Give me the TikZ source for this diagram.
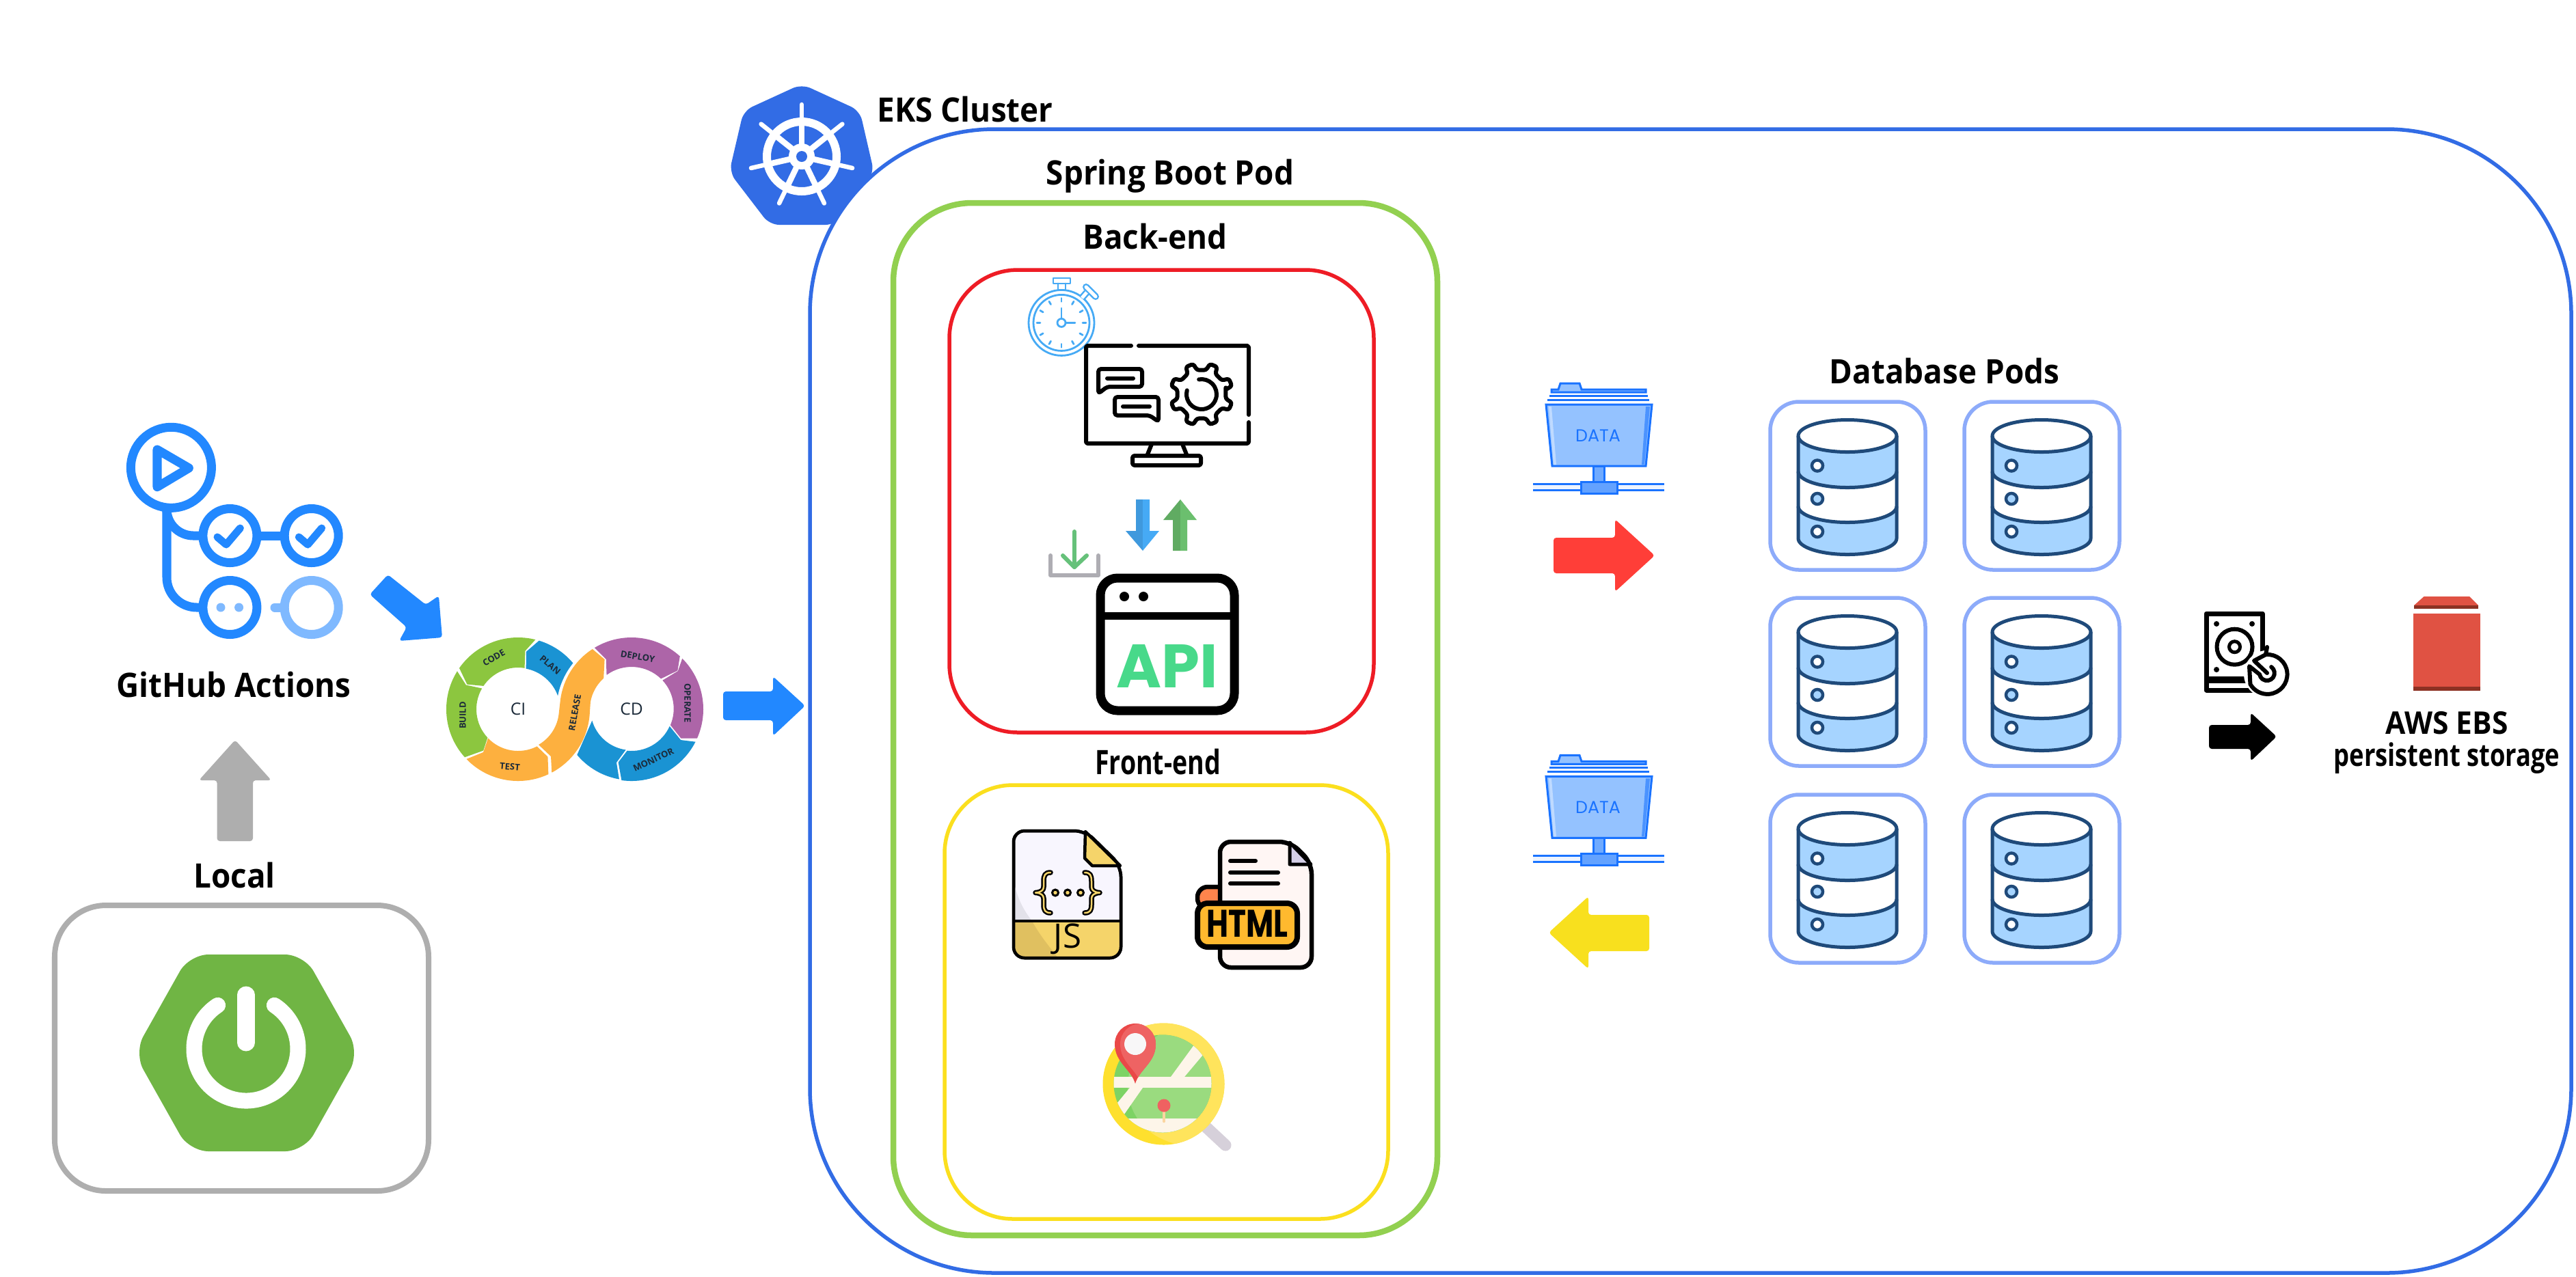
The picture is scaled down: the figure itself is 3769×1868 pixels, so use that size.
\documentclass[tikz,border=0pt]{standalone}
\usepackage{fontspec}
\setmainfont{Open Sans}
\newfontfamily\pop{Poppins}
\usetikzlibrary{calc}
\definecolor{ghblue}{HTML}{2288FF}
\definecolor{ghlight}{HTML}{7FB9FF}
\definecolor{kblue}{HTML}{326CE5}
\definecolor{podgreen}{HTML}{92D050}
\definecolor{bered}{HTML}{EE1C25}
\definecolor{feyellow}{HTML}{FBDF1E}
\definecolor{arrowyellow}{HTML}{F8E01E}
\definecolor{graybox}{HTML}{AEAEAE}
\definecolor{springg}{HTML}{70B544}
\definecolor{dbbox}{HTML}{8DABFA}
\definecolor{dbline}{HTML}{1F4A7A}
\definecolor{dbfill}{HTML}{A6D4FF}
\definecolor{ciG}{HTML}{8CC63F}
\definecolor{ciB}{HTML}{1A93D3}
\definecolor{ciO}{HTML}{FDB03F}
\definecolor{ciP}{HTML}{AD65A8}
\definecolor{citext}{HTML}{1C2B3A}
\definecolor{watch}{HTML}{46AAF5}
\definecolor{fold}{HTML}{1A73FF}
\definecolor{foldfill}{HTML}{94C2FF}
\tikzset{
  lab/.style={inner sep=0pt,font=\fontsize{14}{16}\selectfont\bfseries,text=black,xscale=.93},
  sublab/.style={inner sep=0pt,font=\fontsize{13}{15}\selectfont\bfseries,text=black,xscale=.93},
  cilab/.style={inner sep=0pt,font=\fontsize{3.7}{4.5}\selectfont\bfseries,text=citext},
  cihead/.style={inner sep=0pt,font=\fontsize{7}{8}\selectfont,text=citext},
  blockarrow/.style={rounded corners=.04cm},
  frame/.style={fill=white,line join=round},
  ghline/.style={draw=ghblue,line width=.13cm},
  ghlite/.style={draw=ghlight,line width=.13cm},
  iconline/.style={draw=black,line width=.06cm,line cap=round,line join=round},
  watchline/.style={draw=watch,line width=.028cm,line cap=round},
}
\newcommand\Pc[3]{($(#1)+(#2:#3)$)}
\newcommand\pinpath{(1661,-1586) .. controls (1655,-1565) and (1631,-1555) .. (1631,-1528) arc[start angle=180,end angle=0,radius=30] .. controls (1691,-1555) and (1667,-1565) .. (1661,-1586) -- cycle}
\newcommand\folder[1]{%
 \begin{scope}[yshift=#1]
  \fill[foldfill,draw=fold,line width=.03cm] (2270,-574) -- (2270,-570) -- (2280,-570) -- (2283,-561) -- (2311,-561) -- (2314,-570) -- (2408,-570) -- (2408,-574) -- cycle;
  \draw[fold,line width=.03cm] (2267,-579) -- (2411,-579);
  \draw[fold,line width=.03cm] (2264,-585) -- (2413,-585);
  \fill[foldfill,draw=fold,line width=.03cm] (2262,-592) -- (2417,-592) -- (2408,-682) -- (2271,-682) -- cycle;
  \fill[white!40!foldfill] (2266,-595) -- (2270,-595) -- (2277,-680) -- (2273,-680) -- cycle;
  \fill[fold!60!foldfill] (2414,-595) -- (2408,-595) -- (2402,-680) -- (2406,-680) -- cycle;
  \fill[fold!30!foldfill,draw=fold,line width=.03cm] (2331,-682) rectangle (2347,-705);
  \fill[fold!8!white] (2243,-708) rectangle (2435,-717);
  \draw[fold,line width=.03cm] (2243,-708) -- (2435,-708);
  \draw[fold,line width=.03cm] (2243,-717) -- (2435,-717);
  \fill[fold!40!foldfill,draw=fold,line width=.03cm] (2313,-705) rectangle (2366,-722);
 \end{scope}}
\newcommand\dbpod[2]{%
 \begin{scope}[shift={(#1,#2)}]
  \draw[frame,draw=dbbox,line width=.055cm,rounded corners=.42cm] (2590,-588) rectangle (2817,-834);
  \fill[dbfill] (2631,-638) arc[start angle=180,end angle=360,x radius=72,y radius=23.5] -- (2775,-690) arc[start angle=0,end angle=-180,x radius=72,y radius=23.5] -- cycle;
  \fill[dbfill] (2631,-741) arc[start angle=180,end angle=360,x radius=72,y radius=23.5] -- (2775,-788) arc[start angle=0,end angle=-180,x radius=72,y radius=23.5] -- cycle;
  \draw[dbline,line width=.05cm] (2703,-638) circle[x radius=72,y radius=23.5];
  \draw[dbline,line width=.05cm] (2631,-638) -- (2631,-788) arc[start angle=180,end angle=360,x radius=72,y radius=23.5] -- (2775,-638);
  \draw[dbline,line width=.05cm] (2631,-690) arc[start angle=180,end angle=360,x radius=72,y radius=23.5];
  \draw[dbline,line width=.05cm] (2631,-741) arc[start angle=180,end angle=360,x radius=72,y radius=23.5];
  \draw[dbline,fill=white,line width=.045cm] (2659,-681.5) circle[radius=8];
  \draw[dbline,fill=dbfill,line width=.045cm] (2659,-730) circle[radius=8];
  \draw[dbline,fill=white,line width=.045cm] (2659,-778) circle[radius=8];
 \end{scope}}
\begin{document}
\begin{tikzpicture}[x=.01cm,y=.01cm]
\path[use as bounding box,fill=white] (0,0) rectangle (3769,-1868);

% Kubernetes logo, partly hidden by the cluster frame
\fill[kblue,rounded corners=.14cm] (1173,-123) -- (1258,-162) -- (1279,-253) -- (1222,-329) -- (1126,-329) -- (1067,-252) -- (1088,-162) -- cycle;
\begin{scope}[shift={(1173,-229)}]
 \draw[white,line width=.12cm] (0,0) circle[radius=51];
 \foreach \a in {90,141.4,192.9,244.3,295.7,347.1,38.6}{
  \draw[white,line width=.085cm] (\a:12) -- (\a:50);
  \draw[white,line width=.065cm,line cap=round] (\a:50) -- (\a:76);
 }
 \fill[white] (0,0) circle[radius=19];
 \fill[kblue] (0,0) circle[radius=8];
\end{scope}

% Containers
\draw[frame,draw=kblue,line width=.055cm,rounded corners=2.7cm] (1185,-189) rectangle (3762,-1863);
\draw[frame,draw=podgreen,line width=.085cm,rounded corners=1.15cm] (1307,-297) rectangle (2103,-1808);
\draw[frame,draw=bered,line width=.055cm,rounded corners=1cm] (1389,-395) rectangle (2010,-1072);
\draw[frame,draw=feyellow,line width=.055cm,rounded corners=1cm] (1382,-1149) rectangle (2031,-1784);
\draw[frame,draw=graybox,line width=.08cm,rounded corners=.75cm] (80,-1325) rectangle (627,-1743);

% Labels
\node[lab,anchor=west] (tEKS) at (1283,-160) {EKS Cluster};
\node[lab] (tPod) at (1712,-258) {Spring Boot Pod};
\node[lab] (tBack) at (1690,-346) {Back-end};
\node[lab,xscale=.82] (tFront) at (1694,-1115) {Front-end};
\node[lab] (tDB) at (2845,-543) {Database Pods};
\node[lab] (tLocal) at (343,-1281) {Local};
\node[lab] (tGit) at (342,-1002) {GitHub Actions};
\node[sublab] (tAWS) at (3580,-1058) {AWS EBS};
\node[sublab,xscale=.855] (tPers) at (3580,-1110) {persistent storage};

% Spring logo
\fill[springg,rounded corners=.28cm] (277,-1397) -- (445,-1397) -- (526,-1541) -- (445,-1685) -- (277,-1685) -- (196,-1541) -- cycle;
\draw[white,line width=.23cm,line cap=round] ($(360,-1535)+(123:76)$) arc[start angle=123,end angle=417,radius=76];
\draw[white,line width=.25cm,line cap=round] (360,-1456) -- (360,-1526);

% GitHub Actions logo
\draw[ghlite] (455.7,-889) circle[radius=39.5];
\draw[ghlite,line cap=round] (402,-889) -- (416,-889);
\fill[ghlight] (323,-889) circle[radius=6.5];
\fill[ghlight] (349.6,-889) circle[radius=6.5];
\draw[ghline] (250.4,-684.3) circle[radius=59];
\draw[ghline,line join=round] (230,-658) -- (276.4,-685) -- (230,-712.7) -- cycle;
\draw[ghline] (244,-745) -- (244,-845) arc[start angle=180,end angle=270,radius=44] -- (297,-889);
\draw[ghline] (244,-745) arc[start angle=180,end angle=270,radius=39] -- (297,-784);
\draw[ghline] (375,-784) -- (417,-784);
\foreach \c in {336.4,455.7}{\draw[ghline] (\c,-784) circle[radius=39.5];}
\draw[ghline] (336.4,-889) circle[radius=39.5];
\draw[ghblue,line width=.11cm,line cap=round,line join=round] (318,-786) -- (331,-797) -- (351.4,-773);
\draw[ghblue,line width=.11cm,line cap=round,line join=round] (437.3,-786) -- (450.3,-797) -- (470.7,-773);

% Block arrows
\fill[ghblue,blockarrow] (567.5,-841) -- (541,-870) -- (595,-918) -- (584,-938) -- (647,-933) -- (642,-872) -- (623,-885) -- cycle;
\fill[ghblue,blockarrow] (1058,-1012) -- (1131,-1012) -- (1131,-990) -- (1178,-1033) -- (1131,-1077) -- (1131,-1054) -- (1058,-1054) -- cycle;
\fill[graybox,blockarrow] (344,-1083) -- (397,-1142) -- (370,-1142) -- (370,-1231) -- (317.6,-1231) -- (317.6,-1142) -- (291,-1142) -- cycle;
\fill[fill={rgb,255:red,255;green,62;blue,56},blockarrow] (2273,-787) -- (2363,-787) -- (2363,-760) -- (2421,-813) -- (2363,-866) -- (2363,-839) -- (2273,-839) -- cycle;
\fill[arrowyellow,blockarrow] (2413,-1339) -- (2324,-1339) -- (2324,-1312) -- (2266,-1365) -- (2324,-1418) -- (2324,-1392) -- (2413,-1392) -- cycle;
\fill[black,blockarrow] (3232,-1061) -- (3293,-1061) -- (3293,-1043) -- (3331,-1078) -- (3293,-1114) -- (3293,-1096) -- (3232,-1096) -- cycle;

% CI/CD loop
\coordinate (CI) at (758,-1038);
\coordinate (CD) at (924,-1038);
\fill[ciB] \Pc{CI}{73}{105} arc[start angle=73,end angle=40,radius=105] arc[start angle=141,end angle=169,radius=109] arc[start angle=20,end angle=79,radius=62] -- \Pc{CI}{82}{85} -- cycle;
\fill[ciG] \Pc{CI}{76}{105} arc[start angle=76,end angle=145,radius=105] -- \Pc{CI}{154}{83} -- \Pc{CI}{146}{61} arc[start angle=146,end angle=81,radius=61] -- \Pc{CI}{83}{86} -- cycle;
\fill[ciG] \Pc{CI}{148}{105} arc[start angle=148,end angle=222,radius=105] -- \Pc{CI}{230}{79} -- \Pc{CI}{223}{61} arc[start angle=223,end angle=150,radius=61] -- \Pc{CI}{155}{84} -- cycle;
\fill[ciO] \Pc{CI}{224}{105} arc[start angle=224,end angle=295,radius=105] -- \Pc{CI}{302}{82} -- \Pc{CI}{297}{61} arc[start angle=297,end angle=224,radius=61] -- \Pc{CI}{231}{81} -- cycle;
\fill[ciB] \Pc{CD}{220}{104} arc[start angle=220,end angle=260,radius=104] -- (902,-1116) -- \Pc{CD}{262}{60} arc[start angle=262,end angle=196,radius=60] -- cycle;
\fill[ciB] \Pc{CD}{262}{105} arc[start angle=262,end angle=333,radius=105] -- \Pc{CD}{328}{85} -- \Pc{CD}{336}{61} arc[start angle=336,end angle=264,radius=61] -- \Pc{CD}{256}{80} -- cycle;
\fill[ciP] \Pc{CD}{336}{105} arc[start angle=336,end angle=405,radius=105] -- \Pc{CD}{39.5}{88} -- \Pc{CD}{43}{62} arc[start angle=43,end angle=-23,radius=61] -- \Pc{CD}{329.5}{84} -- cycle;
\fill[ciP] \Pc{CD}{121}{105} arc[start angle=121,end angle=47.6,radius=105] -- \Pc{CD}{40}{88} -- \Pc{CD}{46}{62} arc[start angle=46,end angle=126,radius=62] -- \Pc{CD}{117}{82} -- cycle;
\fill[ciO] \Pc{CI}{298}{105} arc[start angle=298,end angle=356,radius=105] -- \Pc{CD}{170}{61} arc[start angle=170,end angle=132,radius=61] -- (884.6,-965) -- \Pc{CD}{123}{105} arc[start angle=123,end angle=172,radius=105] -- \Pc{CI}{-5}{60} arc[start angle=-5,end angle=-60,radius=60] -- (806,-1107) -- cycle;
\node[cihead] (tCI) at (758,-1038) {CI};
\node[cihead] (tCD) at (924,-1038) {CD};
\node[cilab,rotate=30] (tCode) at (722.5,-962.7) {CODE};
\node[cilab,rotate=-40] (tPlan) at (805,-973) {PLAN};
\node[cilab,rotate=90] (tBuild) at (677,-1047) {BUILD};
\node[cilab,rotate=-5] (tTest) at (746,-1122) {TEST};
\node[cilab,rotate=80] (tRelease) at (841,-1043) {RELEASE};
\node[cilab,rotate=-10] (tDeploy) at (933,-961) {DEPLOY};
\node[cilab,rotate=-90] (tOperate) at (1006,-1029) {OPERATE};
\node[cilab,rotate=25] (tMonitor) at (956,-1112) {MONITOR};

% Stopwatch
\draw[watchline] (1553,-472.4) circle[radius=48];
\draw[watchline] (1553,-472.4) circle[radius=41];
\draw[watchline,line join=round] (1541,-407) rectangle (1566,-415);
\draw[watchline] (1548,-415) -- (1548,-424);
\draw[watchline] (1559,-415) -- (1559,-424);
\draw[watch,line width=.1cm,line cap=round] (1589,-420) -- (1603,-434);
\draw[white,line width=.05cm,line cap=round] (1589,-420) -- (1603,-434);
\draw[watch,line width=.1cm] (1583,-436) -- (1590,-428);
\draw[white,line width=.05cm] (1583,-436) -- (1590,-428);
\foreach \a in {0,30,...,330}{\draw[watchline] ($(1553,-472.4)+(\a:31)$) -- ($(1553,-472.4)+(\a:36)$);}
\draw[watchline] (1553,-472.4) circle[radius=6];
\draw[watchline] (1553,-466) -- (1553,-451);
\draw[watchline] (1559,-472.4) -- (1573,-472.4);

% Monitor with gear and chat
\draw[iconline] (1655,-506) -- (1591,-506) -- (1589,-508) -- (1589,-647) -- (1591,-649) -- (1825,-649) -- (1827,-647) -- (1827,-618);
\draw[iconline] (1827,-607) -- (1827,-508) -- (1825,-506) -- (1666,-506);
\draw[iconline] (1685,-650) -- (1679,-665);
\draw[iconline] (1730,-650) -- (1736,-665);
\draw[iconline,rounded corners=.03cm] (1657,-667) rectangle (1757,-681);
\draw[iconline,rounded corners=.04cm] (1607,-576) -- (1607,-540) -- (1671,-540) -- (1671,-566) -- (1620,-566) -- cycle;
\draw[iconline] (1620,-553.5) -- (1658,-553.5);
\draw[iconline,rounded corners=.04cm] (1695,-617) -- (1695,-581) -- (1631,-581) -- (1631,-608) -- (1682,-608) -- cycle;
\draw[iconline] (1643,-595) -- (1682,-595);
\begin{scope}[shift={(1758,-577)}]
 \draw[iconline,rounded corners=.03cm] (10.5:36) foreach \a in {22.5,67.5,...,337.5}{ -- ({\a-12}:36) -- ({\a-7}:46) -- ({\a+7}:46) -- ({\a+12}:36)} -- cycle;
 \draw[iconline] (165:22) arc[start angle=165,end angle=460,radius=22];
\end{scope}

% Up and down arrows
\fill[watch!90!black] (1662,-731) -- (1672,-731) -- (1672,-806) -- (1647,-777) -- (1662,-777) -- cycle;
\fill[watch] (1672,-731) -- (1682,-731) -- (1682,-777) -- (1696,-777) -- (1672,-806) -- cycle;
\fill[fill={rgb,255:red,96;green,171;blue,98}] (1727,-731) -- (1702,-761) -- (1716,-761) -- (1716,-806) -- (1727,-806) -- cycle;
\fill[fill={rgb,255:red,107;green,191;blue,110}] (1727,-731) -- (1751,-761) -- (1737,-761) -- (1737,-806) -- (1727,-806) -- cycle;

% Download tray
\draw[draw={rgb,255:red,174;green,173;blue,179},line width=.06cm,line cap=round,line join=round] (1537,-813) -- (1537,-842) -- (1607,-842) -- (1607,-813);
\draw[draw={rgb,255:red,102;green,193;blue,122},line width=.06cm,line cap=round,line join=round] (1572,-778) -- (1572,-830);
\draw[draw={rgb,255:red,102;green,193;blue,122},line width=.06cm,line cap=round,line join=round] (1555,-813) -- (1572,-830) -- (1590,-813);

% API window
\draw[black,line width=.13cm,rounded corners=.25cm] (1610,-846) rectangle (1806,-1040);
\draw[black,line width=.11cm] (1610,-901) -- (1806,-901);
\fill[black] (1645,-873) circle[radius=7];
\fill[black] (1673,-873) circle[radius=7];
\node[inner sep=0pt,text={rgb,255:red,72;green,217;blue,138},font=\fontsize{25.5}{28}\pop\bfseries] (tAPI) at (1708,-975) {API};

% JS file
\draw[draw=black,line width=.045cm,fill={rgb,255:red,248;green,246;blue,254},rounded corners=.16cm] (1483,-1216) -- (1588,-1216) -- (1640,-1267) -- (1640,-1402) -- (1483,-1402) -- cycle;
\begin{scope}
 \clip[rounded corners=.16cm] (1483,-1216) -- (1588,-1216) -- (1640,-1267) -- (1640,-1402) -- (1483,-1402) -- cycle;
 \fill[fill={rgb,255:red,227;green,226;blue,234}] (1483,-1290) .. controls (1490,-1320) and (1500,-1335) .. (1510,-1348) -- (1483,-1348) -- cycle;
 \fill[fill={rgb,255:red,245;green,212;blue,106}] (1483,-1348) rectangle (1640,-1402);
 \fill[fill={rgb,255:red,224;green,192;blue,96}] (1483,-1348) -- (1510,-1348) .. controls (1522,-1370) and (1535,-1385) .. (1548,-1402) -- (1483,-1402) -- cycle;
\end{scope}
\draw[draw=black,line width=.045cm,rounded corners=.16cm] (1483,-1216) -- (1588,-1216) -- (1640,-1267) -- (1640,-1402) -- (1483,-1402) -- cycle;
\draw[draw=black,line width=.045cm] (1483,-1348) -- (1640,-1348);
\draw[draw=black,line width=.045cm,fill={rgb,255:red,245;green,212;blue,106},line join=round] (1588,-1217) -- (1639,-1267) -- (1598,-1267) -- (1587,-1256) -- cycle;
\foreach \s/\t in {black/.075,{rgb,255:red,245;green,212;blue,106}/.025}{
 \draw[color/.expanded=\s,line width=\t cm,line cap=round,line join=round] (1537,-1277) .. controls (1529,-1277) and (1527,-1281) .. (1527,-1290) -- (1527,-1298) .. controls (1527,-1303) and (1523,-1306) .. (1515,-1306.5) .. controls (1523,-1307) and (1527,-1310) .. (1527,-1315) -- (1527,-1324) .. controls (1527,-1332) and (1529,-1336) .. (1537,-1336);
 \draw[color/.expanded=\s,line width=\t cm,line cap=round,line join=round] (1587,-1277) .. controls (1595,-1277) and (1597,-1281) .. (1597,-1290) -- (1597,-1298) .. controls (1597,-1303) and (1601,-1306) .. (1609,-1306.5) .. controls (1601,-1307) and (1597,-1310) .. (1597,-1315) -- (1597,-1324) .. controls (1597,-1332) and (1595,-1336) .. (1587,-1336);
}
\foreach \c in {1544,1562,1581}{\draw[draw=black,line width=.03cm,fill={rgb,255:red,245;green,212;blue,106}] (\c,-1306.5) circle[radius=4.5];}
\node[inner sep=0pt,font=\fontsize{14}{16}\selectfont] (tJS) at (1562,-1374) {JS};

% HTML file
\draw[draw=black,line width=.065cm,fill={rgb,255:red,255;green,132;blue,76},rounded corners=.15cm] (1752,-1330) -- (1752,-1298) -- (1800,-1298) -- (1800,-1330) -- cycle;
\draw[draw=black,line width=.065cm,fill={rgb,255:red,255;green,246;blue,244},rounded corners=.16cm] (1785,-1232) -- (1888,-1232) -- (1919,-1263) -- (1919,-1416) -- (1785,-1416) -- cycle;
\draw[draw=black,line width=.05cm,fill={rgb,255:red,213;green,208;blue,232},line join=round] (1887,-1233) -- (1918,-1265) -- (1887,-1265) -- cycle;
\draw[iconline] (1800,-1260) -- (1837,-1260);
\draw[iconline] (1800,-1277) -- (1870,-1277);
\draw[iconline] (1800,-1293) -- (1870,-1293);
\draw[draw=black,line width=.08cm,fill={rgb,255:red,255;green,185;blue,46},rounded corners=.15cm] (1752,-1322) -- (1898,-1322) -- (1898,-1386) -- (1752,-1386) -- cycle;
\node[inner sep=0pt,font=\fontsize{16}{18}\pop\bfseries,xscale=.78] (tHTML) at (1825,-1352) {HTML};

% Map magnifier
\draw[draw={rgb,255:red,214;green,208;blue,218},line width=.17cm,line cap=round] (1763,-1648) -- (1793,-1676);
\fill[fill={rgb,255:red,254;green,224;blue,46}] (1702.5,-1586.5) circle[radius=89];
\begin{scope}
 \clip (1702.5,-1586.5) circle[radius=89];
 \fill[fill={rgb,255:red,255;green,228;blue,92}] (1745,-1572) circle[radius=105];
\end{scope}
\begin{scope}
 \clip (1701,-1586) circle[radius=71.5];
 \fill[fill={rgb,255:red,125;green,211;blue,100}] (1620,-1510) rectangle (1790,-1665);
 \fill[fill={rgb,255:red,154;green,219;blue,127}] (1735,-1590) circle[radius=85];
 \fill[fill={rgb,255:red,253;green,245;blue,233}] (1620,-1576) rectangle (1790,-1592);
 \fill[fill={rgb,255:red,253;green,245;blue,233}] (1620,-1637) rectangle (1790,-1670);
 \fill[fill={rgb,255:red,253;green,245;blue,233}] (1713,-1576) -- (1748,-1528) -- (1765,-1538) -- (1733,-1576) -- cycle;
 \fill[fill={rgb,255:red,253;green,245;blue,233}] (1653,-1592) -- (1630,-1620) -- (1642,-1635) -- (1672,-1592) -- cycle;
\end{scope}
\draw[draw={rgb,255:red,251;green,213;blue,160},line width=.045cm,line cap=round] (1703,-1618) -- (1703,-1641);
\fill[fill={rgb,255:red,239;green,97;blue,97}] (1703,-1618) circle[radius=9.5];
\fill[fill={rgb,255:red,234;green,72;blue,72}] \pinpath;
\begin{scope}
 \clip \pinpath;
 \fill[fill={rgb,255:red,238;green,99;blue,99}] (1669,-1586) .. controls (1663,-1565) and (1639,-1555) .. (1639,-1528) arc[start angle=180,end angle=0,radius=30] .. controls (1699,-1555) and (1675,-1565) .. (1669,-1586) -- cycle;
\end{scope}
\fill[fill={rgb,255:red,248;green,247;blue,248}] (1661,-1528) circle[radius=16];

% Data folders
\folder{0cm}
\node[inner sep=0pt,font=\fontsize{7.2}{9}\pop,text=fold] (tData1) at (2338,-638) {DATA};
\folder{-5.44cm}
\node[inner sep=0pt,font=\fontsize{7.2}{9}\pop,text=fold] (tData2) at (2338,-1182) {DATA};

% Database pods
\foreach \dx in {0,284}{\foreach \dy in {0,-287,-575}{\dbpod{\dx}{\dy}}}

% Hard disk with restore arrow
\draw[black,line width=.07cm,line join=round] (3228,-898) rectangle (3310,-1010);
\fill[black] (3225,-990) rectangle (3313,-1000);
\fill[white] (3233,-1000) rectangle (3259,-1007);
\fill[white] (3266,-1000) rectangle (3273,-1007);
\fill[white] (3280,-1000) rectangle (3287,-1007);
\draw[black,line width=.06cm] (3269.5,-946.7) circle[radius=26];
\draw[black,line width=.05cm] (3269.5,-946.7) circle[radius=8];
\foreach \p in {(3243,-913),(3295,-913),(3243,-980)}{\fill[black] \p circle[radius=4];}
\fill[white] (3318,-986.7) circle[radius=35];
\draw[black,line width=.06cm,line cap=round,line join=round] (3317,-947) -- (3315,-958) -- (3298,-967) -- (3317,-985);
\draw[black,line width=.06cm,line cap=round,line join=round] (3315,-958) arc[start angle=95,end angle=-150,radius=29] -- (3291,-975) -- (3306,-987) arc[start angle=-170,end angle=55,radius=11];

% AWS EBS volume
\fill[fill={rgb,255:red,224;green,82;blue,67}] (3546.5,-873) -- (3613,-873) -- (3626,-886) -- (3532,-886) -- cycle;
\fill[fill={rgb,255:red,140;green,49;blue,35}] (3532,-886) rectangle (3626,-891);
\fill[fill={rgb,255:red,224;green,82;blue,67}] (3531,-898) rectangle (3628.5,-1005);
\fill[fill={rgb,255:red,140;green,49;blue,35}] (3531,-1005) rectangle (3628.5,-1011);
\end{tikzpicture}
\end{document}
